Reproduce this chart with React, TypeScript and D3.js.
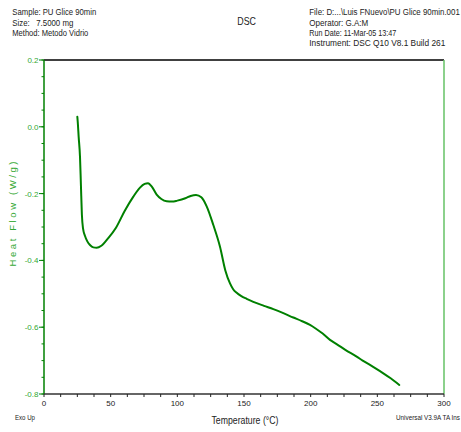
import React from "react";
import * as d3 from "d3";

const temps = [25, 25.3, 26, 27, 27.7, 28.4, 29.3, 30.7, 32.5, 34.5, 37, 39.5, 43, 48, 54, 60.5, 67, 72, 75.5, 78, 81, 84.5, 88, 92, 96, 100, 106, 110, 114, 118, 122, 127, 132, 136, 139.5, 142, 144.5, 148, 152, 157, 165, 172, 179.5, 187, 193, 199.5, 204.5, 209, 214.5, 220, 226, 234.5, 239, 244.5, 249, 254.5, 260, 266.5];
const heatFlow = [0.03, 0.015, -0.03, -0.09, -0.175, -0.262, -0.305, -0.326, -0.343, -0.354, -0.361, -0.362, -0.356, -0.334, -0.302, -0.252, -0.209, -0.182, -0.171, -0.169, -0.18, -0.203, -0.216, -0.223, -0.224, -0.221, -0.214, -0.207, -0.204, -0.211, -0.238, -0.294, -0.359, -0.43, -0.469, -0.487, -0.497, -0.507, -0.515, -0.524, -0.536, -0.546, -0.558, -0.571, -0.581, -0.593, -0.606, -0.619, -0.638, -0.652, -0.668, -0.688, -0.7, -0.713, -0.724, -0.738, -0.753, -0.773];

const xTicks = [0, 50, 100, 150, 200, 250, 300];
const yTicks = [0.2, 0.0, -0.2, -0.4, -0.6, -0.8];
const leftHeader = ["Sample: PU Glice 90min", "Size:   7.5000 mg", "Method: Metodo Vidrio"];
const leftHeaderW = [84, 61, 76];
const rightHeader = ["File: D:...\\Luis FNuevo\\PU Glice 90min.001", "Operator: G.A:M", "Run Date: 11-Mar-05 13:47", "Instrument: DSC Q10 V8.1 Build 261"];
const rightHeaderW = [150.5, 59, 87, 136];

const W = 461, H = 432;
const FONT = "'Liberation Sans', Arial, sans-serif";

export default function App() {
  const x = d3.scaleLinear().domain([0, 300]).range([44, 444]);
  const y = d3.scaleLinear().domain([-0.8, 0.2]).range([394, 60]);
  const pts: [number, number][] = temps.map((t, i) => [t, heatFlow[i]]);
  const line = d3.line<[number, number]>().x(d => x(d[0])).y(d => y(d[1])).curve(d3.curveMonotoneX);
  const xMinor = d3.range(0, 300.01, 12.5);
  const yMinor = d3.range(-0.8, 0.2001, 0.05);
  const green = "#008000";
  const lightGreen = "#33a833";
  return (
    <svg width={W} height={H} style={{ position: "absolute", left: 0, top: 0, background: "#fff" }} fontFamily={FONT}>
      <rect x={0} y={0} width={W} height={H} fill="#fff" />
      {leftHeader.map((s, i) => (
        <text key={s} x={12.3} y={15.3 + i * 10.3} fontSize={8.3} textLength={leftHeaderW[i]} lengthAdjust="spacingAndGlyphs" fill="#222" xmlSpace="preserve">{s}</text>
      ))}
      {rightHeader.map((s, i) => (
        <text key={s} x={309.3} y={15.3 + i * 10.3} fontSize={8.3} textLength={rightHeaderW[i]} lengthAdjust="spacingAndGlyphs" fill="#222">{s}</text>
      ))}
      <text x={237.3} y={25} fontSize={11.5} textLength={18.7} lengthAdjust="spacingAndGlyphs" fill="#222">DSC</text>

      {/* frame */}
      <line x1={x(0)} x2={x(300)} y1={y(0.2)} y2={y(0.2)} stroke="#000" strokeWidth={1.5} />
      <line x1={x(300)} x2={x(300)} y1={y(0.2)} y2={y(-0.8)} stroke="#66c266" strokeWidth={1.5} />

      {/* y axis */}
      <line x1={x(0)} x2={x(0)} y1={y(0.2)} y2={y(-0.8)} stroke={green} strokeWidth={1.5} />
      {yMinor.map((v, i) => (
        <line key={"ym" + i} x1={x(0) - 2.5} x2={x(0)} y1={y(v)} y2={y(v)} stroke={green} strokeWidth={1} />
      ))}
      {yTicks.map(v => (
        <g key={"y" + v}>
          <line x1={x(0) - 5} x2={x(0)} y1={y(v)} y2={y(v)} stroke={green} strokeWidth={1} />
          <text x={38.5} y={y(v) + 2.9} fontSize={8} textAnchor="end" fill={lightGreen}>{v.toFixed(1)}</text>
        </g>
      ))}
      <text transform={`translate(15.5,214) rotate(-90)`} fontSize={9.5} textAnchor="middle" textLength={105} lengthAdjust="spacing" fill={lightGreen}>Heat Flow (W/g)</text>

      {/* x axis */}
      <line x1={x(0)} x2={x(300)} y1={y(-0.8)} y2={y(-0.8)} stroke="#333" strokeWidth={1.5} />
      {xMinor.map((v, i) => (
        <line key={"xm" + i} x1={x(v)} x2={x(v)} y1={y(-0.8)} y2={y(-0.8) + 3} stroke="#222" strokeWidth={1} />
      ))}
      {xTicks.map(v => (
        <text key={"x" + v} x={x(v)} y={406} fontSize={8} textAnchor="middle" fill="#222">{v}</text>
      ))}
      <text x={245} y={424} fontSize={10.5} textAnchor="middle" textLength={67} lengthAdjust="spacingAndGlyphs" fill="#222">Temperature (°C)</text>
      <text x={15} y={420} fontSize={7} textLength={20} lengthAdjust="spacingAndGlyphs" fill="#222">Exo Up</text>
      <text x={396} y={420} fontSize={7} textLength={64} lengthAdjust="spacingAndGlyphs" fill="#222">Universal V3.9A TA Ins</text>

      {/* curve */}
      <path d={line(pts) || ""} fill="none" stroke={green} strokeWidth={2} strokeLinejoin="round" strokeLinecap="round" />
    </svg>
  );
}
